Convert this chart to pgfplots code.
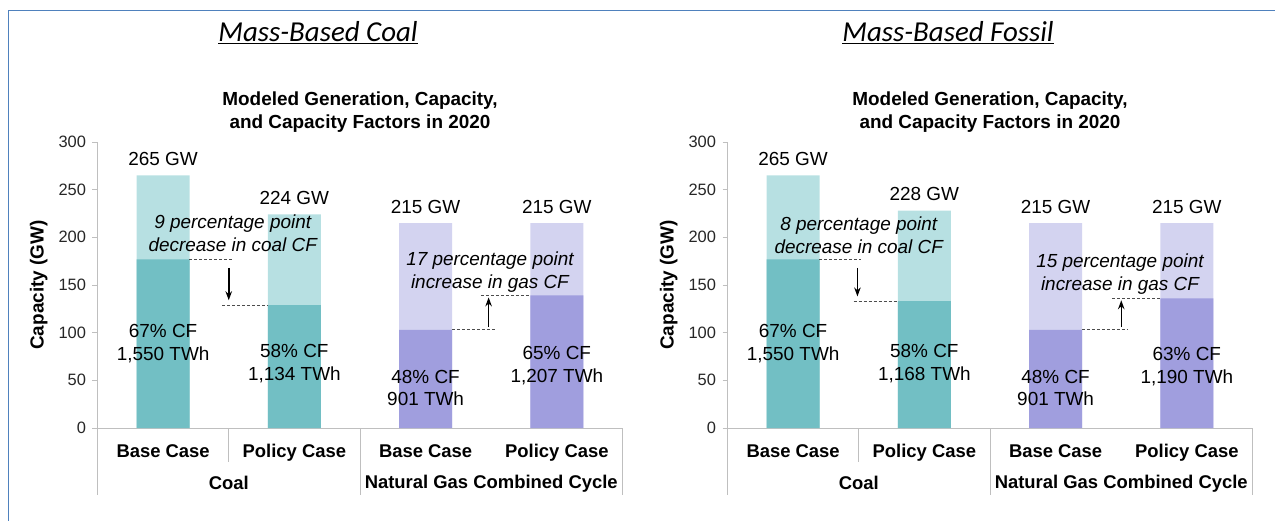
\documentclass[border=0pt]{standalone}
\usepackage{fontspec}
\setmainfont{Liberation Sans}
\newfontfamily\calibri{Carlito}
\usepackage{pgfplots}
\pgfplotsset{compat=1.18}
\usetikzlibrary{arrows.meta}

\definecolor{coalL}{RGB}{183,224,226}
\definecolor{coalD}{RGB}{114,191,196}
\definecolor{gasL}{RGB}{211,211,240}
\definecolor{gasD}{RGB}{160,158,222}
\definecolor{frame}{RGB}{79,129,189}
\definecolor{axgray}{RGB}{191,191,191}

\newcommand{\fs}{\fontsize{19}{23}\selectfont}

\tikzset{
  sep/.style={axgray, line width=0.9bp},
  dsh/.style={black!70, line width=0.9bp, dash pattern=on 3bp off 2bp},
  arr/.style={-{Stealth[length=9bp,width=6.5bp]}, line width=1.5bp},
}
\pgfplotsset{
  capchart/.style={
    width=525bp, height=286bp, scale only axis,
    anchor=south west,
    xmin=-0.5, xmax=3.5, ymin=0, ymax=300,
    axis x line*=bottom, axis y line*=left,
    axis line style={axgray, line width=0.9bp},
    ytick={0,50,...,300},
    xtick={0,1,2,3},
    xticklabels={Base Case,Policy Case,Base Case,Policy Case},
    xtick style={draw=none},
    ytick style={axgray, line width=0.9bp},
    tick align=outside, major tick length=5bp,
    /pgf/number format/assume math mode=true,
    yticklabel style={font=\fontsize{16.5}{18}\selectfont, black!85, xshift=-3bp},
    xticklabel style={font=\fontsize{18.5}{22}\selectfont\bfseries, yshift=-8bp},
    ylabel={Capacity (GW)},
    ylabel style={font=\fs\bfseries, at={(axis description cs:-0.112,0.5)}, anchor=center},
    clip=false,
    ybar, bar width=53bp, bar shift=0pt,
    nodes near coords style={font=\fs, black, anchor=south, yshift=6bp},
  },
}

\begin{document}
\begin{tikzpicture}
\path[use as bounding box] (0,0) rectangle (1275bp,521bp);
\draw[frame, line width=1.6bp] (8.5bp,0) -- (8.5bp,510.5bp) -- (1275bp,510.5bp);

% left panel: mass-based coal
\node[font=\calibri\itshape\fontsize{29}{33}\selectfont] at (318bp,488bp) {\underline{Mass-Based Coal}};
\node[align=center, font=\bfseries\fontsize{19}{23}\selectfont] at (360bp,409bp)
  {Modeled Generation, Capacity,\\and Capacity Factors in 2020};
\begin{axis}[capchart, at={(97.5bp,93bp)}]
  \addplot[fill=coalL, draw=none, nodes near coords={\pgfmathprintnumber{\pgfplotspointmeta}~GW}]
    coordinates {(0,265) (1,224)};
  \addplot[fill=coalD, draw=none] coordinates {(0,177) (1,129)};
  \addplot[fill=gasL, draw=none, nodes near coords={\pgfmathprintnumber{\pgfplotspointmeta}~GW}]
    coordinates {(2,215) (3,215)};
  \addplot[fill=gasD, draw=none] coordinates {(2,103) (3,139)};

  \draw[sep] (axis cs:0.5,0) -- (axis cs:0.5,-36);
  \draw[sep] (axis cs:-0.5,0) -- (axis cs:-0.5,-70);
  \draw[sep] (axis cs:1.5,0) -- (axis cs:1.5,-70);
  \draw[sep] (axis cs:3.5,0) -- (axis cs:3.5,-70);
  \node[font=\fontsize{18.5}{22}\selectfont\bfseries] at (axis cs:0.5,-58) {Coal};
  \node[font=\fontsize{18.5}{22}\selectfont\bfseries] at (axis cs:2.5,-58) {Natural Gas Combined Cycle};

  \node[align=center, font=\fs] at (axis cs:0,89) {67\% CF\\1,550 TWh};
  \node[align=center, font=\fs] at (axis cs:1,68) {58\% CF\\1,134 TWh};
  \node[align=center, font=\fs] at (axis cs:2,42) {48\% CF\\901 TWh};
  \node[align=center, font=\fs] at (axis cs:3,65.5) {65\% CF\\1,207 TWh};

  \node[align=center, font=\fs\itshape] at (axis cs:0.53,204) {9 percentage point\\decrease in coal CF};
  \draw[dsh] (axis cs:0.2,177) -- (axis cs:0.53,177);
  \draw[dsh] (axis cs:0.45,129) -- (axis cs:0.8,129);
  \draw[arr] (axis cs:0.5,168) -- (axis cs:0.5,134);

  \node[align=center, font=\fs\itshape] at (axis cs:2.49,164) {17 percentage point\\increase in gas CF};
  \draw[dsh] (axis cs:2.2,103) -- (axis cs:2.54,103);
  \draw[dsh] (axis cs:2.42,139) -- (axis cs:2.8,139);
  \draw[arr] (axis cs:2.48,106) -- (axis cs:2.48,137);
\end{axis}

% right panel: mass-based fossil
\node[font=\calibri\itshape\fontsize{29}{33}\selectfont] at (948bp,488bp) {\underline{Mass-Based Fossil}};
\node[align=center, font=\bfseries\fontsize{19}{23}\selectfont] at (990bp,409bp)
  {Modeled Generation, Capacity,\\and Capacity Factors in 2020};
\begin{axis}[capchart, at={(727.5bp,93bp)}]
  \addplot[fill=coalL, draw=none, nodes near coords={\pgfmathprintnumber{\pgfplotspointmeta}~GW}]
    coordinates {(0,265) (1,228)};
  \addplot[fill=coalD, draw=none] coordinates {(0,177) (1,133)};
  \addplot[fill=gasL, draw=none, nodes near coords={\pgfmathprintnumber{\pgfplotspointmeta}~GW}]
    coordinates {(2,215) (3,215)};
  \addplot[fill=gasD, draw=none] coordinates {(2,103) (3,136)};

  \draw[sep] (axis cs:0.5,0) -- (axis cs:0.5,-36);
  \draw[sep] (axis cs:-0.5,0) -- (axis cs:-0.5,-70);
  \draw[sep] (axis cs:1.5,0) -- (axis cs:1.5,-70);
  \draw[sep] (axis cs:3.5,0) -- (axis cs:3.5,-70);
  \node[font=\fontsize{18.5}{22}\selectfont\bfseries] at (axis cs:0.5,-58) {Coal};
  \node[font=\fontsize{18.5}{22}\selectfont\bfseries] at (axis cs:2.5,-58) {Natural Gas Combined Cycle};

  \node[align=center, font=\fs] at (axis cs:0,89) {67\% CF\\1,550 TWh};
  \node[align=center, font=\fs] at (axis cs:1,67.5) {58\% CF\\1,168 TWh};
  \node[align=center, font=\fs] at (axis cs:2,42) {48\% CF\\901 TWh};
  \node[align=center, font=\fs] at (axis cs:3,64) {63\% CF\\1,190 TWh};

  \node[align=center, font=\fs\itshape] at (axis cs:0.5,202.5) {8 percentage point\\decrease in coal CF};
  \draw[dsh] (axis cs:0.2,177) -- (axis cs:0.52,177);
  \draw[dsh] (axis cs:0.46,133) -- (axis cs:0.8,133);
  \draw[arr] (axis cs:0.49,168) -- (axis cs:0.49,138);

  \node[align=center, font=\fs\itshape] at (axis cs:2.49,161.5) {15 percentage point\\increase in gas CF};
  \draw[dsh] (axis cs:2.2,103) -- (axis cs:2.55,103);
  \draw[dsh] (axis cs:2.43,136) -- (axis cs:2.8,136);
  \draw[arr] (axis cs:2.5,106) -- (axis cs:2.5,134);
\end{axis}
\end{tikzpicture}
\end{document}
